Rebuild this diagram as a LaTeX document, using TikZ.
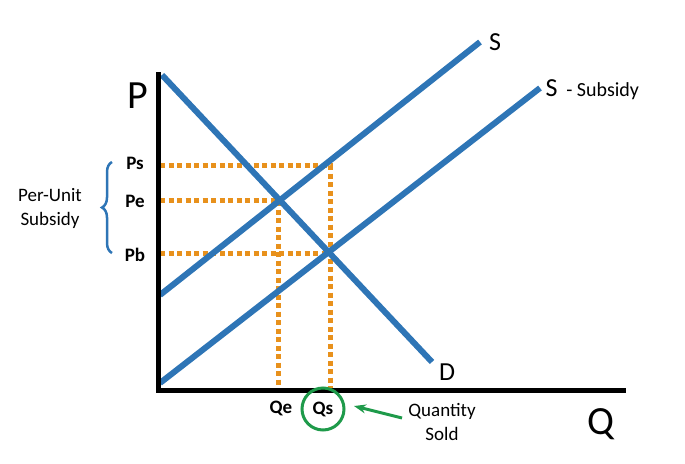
\documentclass[tikz,border=0pt]{standalone}
\usepackage{fontspec}
\setmainfont{Carlito}
\usetikzlibrary{decorations.pathreplacing,arrows.meta}
\definecolor{lblue}{HTML}{2E75B6}
\definecolor{orng}{HTML}{E8911C}
\definecolor{grn}{HTML}{1E9A4A}
\tikzset{curve/.style={lblue,line width=6pt},
 guide/.style={orng,line width=5pt,dash pattern=on 5pt off 3.5pt},
 axis/.style={black,line width=5pt},
 plab/.style={font=\bfseries\fontsize{19}{21}\selectfont}}
\begin{document}
\begin{tikzpicture}[x=1pt,y=-1pt]
\useasboundingbox (0,0) rectangle (685,463);
\coordinate (o) at (158,390);
\coordinate (ytop) at (158,72);
\coordinate (xend) at (626,390);
\coordinate (s1) at (160,295); \coordinate (s2) at (480,42);
\coordinate (t1) at (160,383); \coordinate (t2) at (540,88);
\coordinate (d1) at (162,75); \coordinate (d2) at (432,362);
\coordinate (ps0) at (160,165); \coordinate (ps1) at (330,165);
\coordinate (pe0) at (160,200); \coordinate (pe1) at (278,200);
\coordinate (pb0) at (160,253); \coordinate (pb1) at (330,253);
\coordinate (qe) at (278,390); \coordinate (qs) at (330,390);
\draw[guide] (ps0)--(ps1)--(qs);
\draw[guide] (pe0)--(pe1)--(qe);
\draw[guide] (pb0)--(pb1);
\draw[curve] (s1)--(s2);
\draw[curve] (t1)--(t2);
\draw[curve] (d1)--(d2);
\draw[axis] (ytop)--(o)--(xend);
\node (P) at (138,96) {\fontsize{40}{42}\selectfont P};
\node (Q) at (601,424) {\fontsize{40}{42}\selectfont Q};
\node (S) at (495,42) {\fontsize{26}{28}\selectfont S};
\node[anchor=west] (SS) at (542,90) {\fontsize{26}{28}\selectfont S\,\fontsize{20}{22}\selectfont{} - Subsidy};
\node (D) at (447,372) {\fontsize{26}{28}\selectfont D};
\node[plab] (Ps) at (135,163) {Ps};
\node[plab] (Pe) at (135,201) {Pe};
\node[plab] (Pb) at (135,255) {Pb};
\node[plab] (Qe) at (281,408) {Qe};
\node[plab] (Qs) at (323,409) {Qs};
\draw[grn,line width=3pt] (Qs) circle (21);
\draw[decorate,decoration={brace,amplitude=10pt},lblue,line width=2.5pt] (112,253)--(112,162);
\node[align=center,font=\fontsize{19}{24}\selectfont] (pu) at (50,208) {Per-Unit\\Subsidy};
\node[align=center,font=\fontsize{19}{24}\selectfont] (qsold) at (442,422) {Quantity\\Sold};
\draw[grn,line width=3pt,-{Stealth[length=12pt]}] (402,418)--(354,406);
\end{tikzpicture}
\end{document}
